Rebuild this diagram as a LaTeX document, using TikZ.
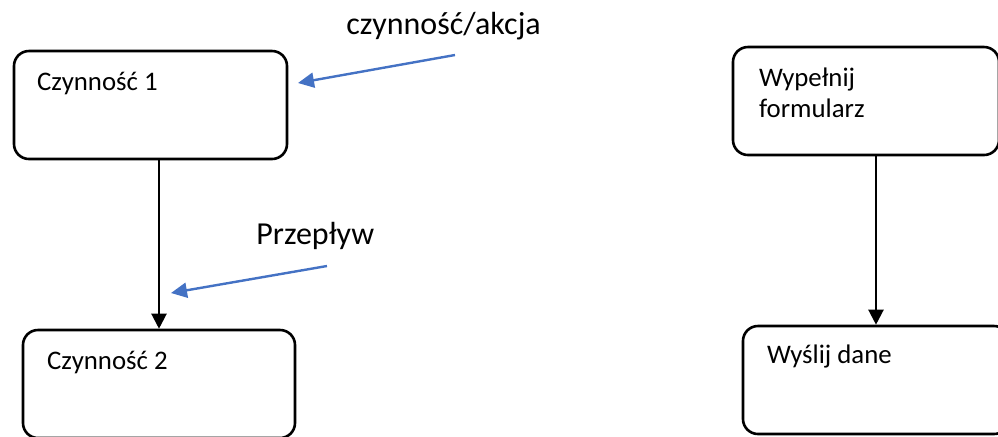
\documentclass[tikz,border=0pt]{standalone}
\usepackage{fontspec}
\setmainfont{Carlito}
\usepackage{xcolor}
\usepackage{tikz}
\usetikzlibrary{arrows.meta, positioning}

\definecolor{noteblue}{RGB}{68,114,196}

\begin{document}
\begin{tikzpicture}[x=0.5pt,y=-0.5pt,
		flow/.style={-{Triangle[length=7.5pt,width=7.5pt]},line width=1.1pt},
		note/.style={-{Triangle[length=8pt,width=7.5pt]},line width=1.2pt,noteblue}]
			\tikzstyle{every action}=[draw,rectangle,rounded corners=7.5pt,line width=1.3pt,minimum height=54pt,inner sep=0pt]
			\tikzstyle{action text}=[anchor=base west,inner sep=0pt,font=\fontsize{13.4}{15.5}\selectfont,align=left]
			\tikzstyle{note text}=[anchor=base west,inner sep=0pt,font=\fontsize{16}{19}\selectfont]
			
			\useasboundingbox (0,0) rectangle (998,436);
			
			% left flow
			\node[every action,minimum width=136.5pt] (a_1) at (150.5,105) {};
			\node[every action,minimum width=136pt] (a_2) at (159,384) {};
			\node[action text] (t_1) at ([shift={(24,41)}]a_1.north west) {Czynność 1};
			\node[action text] (t_2) at ([shift={(25,41)}]a_2.north west) {Czynność 2};
			
			% right flow (base of a two-line node sits on its last line)
			\node[every action,minimum width=133pt] (a_3) at (866,101) {};
			\node[every action,minimum width=133pt] (a_4) at (876,380) {};
			\node[action text] (t_3) at ([shift={(27,72)}]a_3.north west) {Wypełnij\\formularz};
			\node[action text] (t_4) at ([shift={(25,39)}]a_4.north west) {Wyślij dane};
			
			\path[flow]
			(a_1.south -| a_2.north) edge (a_2.north)
			(a_3.south -| a_4.north) edge (a_4.north);
			
			% notes
			\node[note text] (n_1) at (346,34) {czynność/akcja};
			\node[note text] (n_2) at (256,244) {Przepływ};
			\coordinate (s_1) at (455,55);
			\coordinate (e_1) at (298,83);
			\coordinate (s_2) at (327,266);
			\coordinate (e_2) at (171,293);
			\draw[note] (s_1) -- (e_1);
			\draw[note] (s_2) -- (e_2);
		\end{tikzpicture}
\end{document}
